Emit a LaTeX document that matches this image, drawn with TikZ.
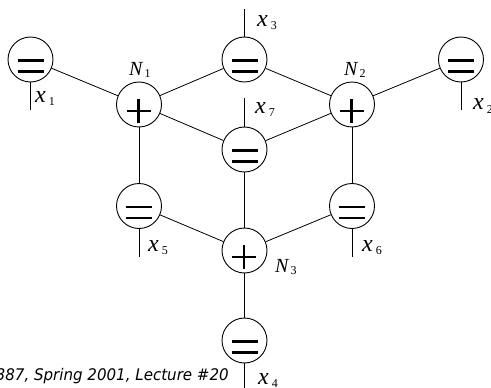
\documentclass[tikz,border=0pt]{standalone}
\usepackage{fontspec}
\setmainfont{Liberation Serif}
\newfontfamily\footfont{DejaVu Sans}
\usepackage{graphicx}
\usetikzlibrary{calc}
\newcommand\xlab[1]{{\fontsize{24}{24}\selectfont\itshape x}\kern3pt\raisebox{-3pt}{\fontsize{12}{12}\selectfont #1}}
\newcommand\nlab[1]{{\fontsize{20}{20}\selectfont\itshape N}\kern2pt\raisebox{-2pt}{\fontsize{12}{12}\selectfont #1}}
\begin{document}
\begin{tikzpicture}[x=1pt,y=-1pt,
  vnode/.style={circle,draw,line width=0.9pt,minimum size=45pt,inner sep=0pt},
  eqn/.style={vnode,path picture={
     \draw[line width=2.2pt] ($(path picture bounding box.center)+(-13,1)$) -- ++(26,0);
     \draw[line width=2.2pt] ($(path picture bounding box.center)+(-13,12)$) -- ++(26,0);}},
  plusn/.style={vnode,path picture={
     \draw[line width=2.2pt] ($(path picture bounding box.center)+(-12.5,6.5)$) -- ++(24,0);
     \draw[line width=2.2pt] ($(path picture bounding box.center)+(-0.5,-5.5)$) -- ++(0,24);}},
  conn/.style={line width=0.8pt},
  lab/.style={inner sep=0pt,anchor=base west}]
\useasboundingbox (0,0) rectangle (491,388);
% nodes
\node[eqn] (e1) at (30.5,59.5) {};
\node[eqn] (e3) at (244.5,59.5) {};
\node[eqn] (e2) at (461,59.5) {};
\node[plusn] (n1) at (139,104.5) {};
\node[plusn] (n2) at (352,104.5) {};
\node[eqn] (e7) at (244.5,149.5) {};
\node[eqn] (e5) at (139,206) {};
\node[eqn] (e6) at (352,206) {};
\node[plusn] (n3) at (244.5,250.5) {};
\node[eqn] (e4) at (244.5,340.5) {};
% stub ends
\coordinate (s1) at (30.5,110);
\coordinate (s3) at (244.5,9);
\coordinate (s2) at (461,110);
\coordinate (s7) at (244.5,98);
\coordinate (s5) at (139,257);
\coordinate (s6) at (352,257);
\coordinate (s4) at (244.5,388);
% connectors
\draw[conn] (e1) -- (n1);
\draw[conn] (e3) -- (n1);
\draw[conn] (e3) -- (n2);
\draw[conn] (e2) -- (n2);
\draw[conn] (e7) -- (n1);
\draw[conn] (e7) -- (n2);
\draw[conn] (e7) -- (n3);
\draw[conn] (n1) -- (e5);
\draw[conn] (n2) -- (e6);
\draw[conn] (e5) -- (n3);
\draw[conn] (e6) -- (n3);
\draw[conn] (n3) -- (e4);
% stubs
\draw[conn] (e1.south) -- (s1);
\draw[conn] (e3.north) -- (s3);
\draw[conn] (e2.south) -- (s2);
\draw[conn] (e7.north) -- (s7);
\draw[conn] (e5.south) -- (s5);
\draw[conn] (e6.south) -- (s6);
\draw[conn] (e4.south) -- (s4);
% labels
\node[lab] (lx1) at (35,102) {\xlab{1}};
\node[lab] (lx3) at (257,27) {\xlab{3}};
\node[lab] (lx2) at (473,110) {\xlab{2}};
\node[lab] (lx7) at (255,113) {\xlab{7}};
\node[lab] (lx5) at (148,251) {\xlab{5}};
\node[lab] (lx6) at (362,251) {\xlab{6}};
\node[lab] (lx4) at (258,384) {\xlab{4}};
\node[lab] (ln1) at (129,75) {\nlab{1}};
\node[lab] (ln2) at (344,75) {\nlab{2}};
\node[lab] (ln3) at (275,272) {\nlab{3}};
% footer
\node[inner sep=0pt,anchor=base east] (foot) at (229,380)
  {\resizebox{233pt}{\height}{\footfont\fontsize{16}{16}\selectfont\itshape 387, Spring 2001, Lecture \#20}};
\end{tikzpicture}
\end{document}
